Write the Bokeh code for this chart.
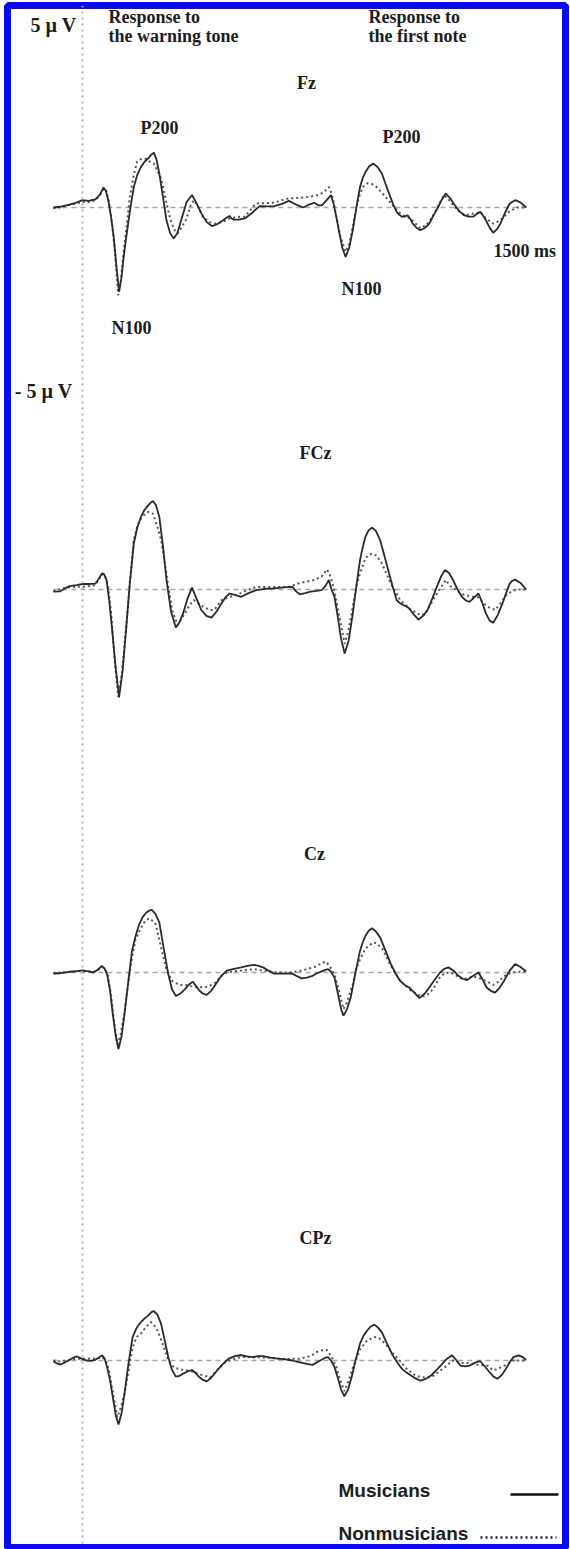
import numpy as np
from bokeh.plotting import figure
from bokeh.models import Range1d, Label, Span
from bokeh.embed import file_html
from bokeh.resources import INLINE

# ---------------- data (time in ms, amplitude in µV) ----------------
channels = ["Fz", "FCz", "Cz", "CPz"]
groups = ["Musicians", "Nonmusicians"]

fz_mus_t = [-97, -75, -54, -25, 0, 20, 43, 58, 70, 78, 86, 95, 104, 113, 122, 130, 138, 146, 158, 171, 183, 195, 207, 219, 230, 238, 247, 256, 268, 280, 292, 304, 316, 329, 347, 365, 380, 396, 414, 432, 450, 469, 480, 490, 497, 505, 520, 541, 565, 590, 615, 639, 665, 688, 712, 736, 755, 773, 786, 798, 814, 828, 837, 846, 855, 866, 877, 889, 901, 913, 925, 934, 943, 956, 970, 984, 998, 1010, 1022, 1035, 1047, 1056, 1065, 1074, 1083, 1092, 1101, 1114, 1126, 1141, 1156, 1171, 1186, 1198, 1211, 1226, 1241, 1256, 1272, 1287, 1302, 1314, 1326, 1335, 1345, 1357, 1369, 1381, 1393, 1408, 1424, 1442, 1460, 1479]
fz_mus_v = [0.0, 0.02, 0.06, 0.12, 0.2, 0.18, 0.22, 0.35, 0.55, 0.45, 0.2, -0.25, -0.8, -1.6, -2.3, -1.9, -1.3, -0.8, -0.1, 0.56, 0.9, 1.11, 1.25, 1.34, 1.45, 1.5, 1.3, 0.93, 0.3, -0.35, -0.7, -0.85, -0.7, -0.35, 0.15, 0.34, 0.12, -0.16, -0.4, -0.51, -0.45, -0.35, -0.28, -0.23, -0.3, -0.33, -0.33, -0.3, -0.15, 0.04, 0.03, 0.04, 0.1, 0.18, 0.08, 0.0, 0.08, 0.13, 0.06, 0.06, 0.2, 0.34, 0.1, -0.25, -0.65, -1.1, -1.35, -1.1, -0.62, 0.0, 0.56, 0.8, 0.97, 1.13, 1.2, 1.1, 0.93, 0.65, 0.38, 0.1, -0.12, -0.2, -0.25, -0.25, -0.21, -0.3, -0.44, -0.56, -0.62, -0.56, -0.44, -0.2, 0.02, 0.22, 0.38, 0.25, 0.06, -0.1, -0.21, -0.25, -0.25, -0.18, -0.12, -0.22, -0.35, -0.55, -0.69, -0.6, -0.44, -0.15, 0.11, 0.2, 0.14, 0.0]

fz_non_t = [-97, -75, -54, -25, 0, 20, 43, 58, 70, 80, 88, 98, 108, 119, 127, 136, 146, 158, 171, 182, 189, 200, 213, 225, 238, 250, 262, 275, 292, 305, 317, 330, 347, 360, 371, 384, 402, 423, 444, 465, 490, 515, 541, 578, 610, 639, 665, 688, 712, 736, 760, 785, 805, 821, 832, 846, 860, 877, 889, 901, 913, 925, 937, 949, 965, 980, 998, 1020, 1047, 1065, 1083, 1101, 1126, 1141, 1156, 1180, 1205, 1220, 1241, 1260, 1278, 1296, 1308, 1326, 1345, 1369, 1381, 1399, 1424, 1450, 1479]
fz_non_v = [-0.02, 0.0, 0.05, 0.1, 0.15, 0.15, 0.2, 0.33, 0.52, 0.45, 0.15, -0.4, -1.2, -2.4, -2.1, -1.3, -0.6, 0.3, 0.9, 1.25, 1.31, 1.33, 1.33, 1.25, 1.2, 1.0, 0.79, 0.3, -0.3, -0.6, -0.71, -0.55, -0.3, 0.05, 0.2, 0.05, -0.26, -0.4, -0.44, -0.4, -0.3, -0.26, -0.25, 0.11, 0.12, 0.13, 0.2, 0.25, 0.26, 0.27, 0.3, 0.34, 0.42, 0.56, 0.35, -0.25, -0.8, -1.21, -1.0, -0.53, 0.0, 0.38, 0.58, 0.66, 0.64, 0.56, 0.4, 0.2, -0.07, -0.2, -0.25, -0.36, -0.57, -0.5, -0.39, -0.05, 0.34, 0.22, 0.02, -0.15, -0.21, -0.17, -0.16, -0.12, -0.3, -0.44, -0.4, -0.3, -0.1, 0.0, 0.0]

fcz_mus_t = [-97, -75, -54, -42, -20, 0, 20, 43, 55, 65, 72, 80, 89, 98, 110, 122, 134, 146, 158, 171, 183, 195, 207, 219, 228, 235, 245, 256, 268, 280, 295, 311, 323, 335, 350, 365, 380, 396, 413, 430, 447, 463, 478, 490, 505, 529, 553, 578, 610, 639, 670, 700, 712, 724, 742, 760, 780, 797, 810, 821, 830, 840, 850, 862, 874, 887, 901, 913, 925, 934, 943, 954, 965, 978, 992, 1007, 1022, 1035, 1047, 1059, 1071, 1080, 1089, 1104, 1120, 1135, 1150, 1166, 1181, 1195, 1208, 1222, 1235, 1250, 1265, 1278, 1290, 1305, 1320, 1332, 1345, 1357, 1369, 1384, 1400, 1412, 1424, 1433, 1442, 1460, 1479]
fcz_mus_v = [-0.06, -0.05, 0.05, 0.09, 0.12, 0.15, 0.15, 0.16, 0.3, 0.44, 0.42, 0.26, -0.3, -1.02, -2.1, -2.95, -2.2, -1.02, 0.2, 1.26, 1.7, 1.99, 2.18, 2.3, 2.38, 2.42, 2.3, 1.99, 1.2, 0.26, -0.6, -1.04, -0.9, -0.66, -0.25, 0.05, -0.25, -0.56, -0.72, -0.77, -0.6, -0.38, -0.2, -0.11, -0.14, -0.2, -0.1, -0.02, 0.02, 0.03, 0.06, 0.07, -0.05, -0.13, -0.1, -0.06, -0.04, -0.02, 0.1, 0.26, 0.0, -0.2, -0.7, -1.35, -1.75, -1.4, -0.66, 0.1, 0.8, 1.15, 1.44, 1.62, 1.69, 1.6, 1.35, 0.9, 0.44, 0.05, -0.29, -0.38, -0.43, -0.46, -0.52, -0.68, -0.82, -0.72, -0.56, -0.25, 0.07, 0.35, 0.53, 0.45, 0.26, 0.0, -0.2, -0.3, -0.34, -0.22, -0.11, -0.35, -0.66, -0.85, -0.91, -0.7, -0.38, -0.1, 0.16, 0.24, 0.27, 0.18, 0.0]

fcz_non_t = [-97, -54, -20, 0, 43, 55, 65, 75, 85, 95, 107, 119, 131, 146, 158, 171, 183, 195, 207, 219, 235, 250, 262, 275, 286, 300, 317, 330, 341, 355, 371, 383, 402, 425, 439, 463, 490, 513, 541, 578, 639, 688, 724, 750, 773, 797, 815, 827, 840, 855, 874, 887, 901, 913, 925, 943, 955, 968, 980, 998, 1028, 1059, 1089, 1110, 1126, 1141, 1162, 1186, 1211, 1225, 1247, 1265, 1302, 1320, 1340, 1357, 1375, 1393, 1412, 1430, 1450, 1479]
fcz_non_v = [-0.04, 0.05, 0.08, 0.07, 0.12, 0.28, 0.42, 0.38, 0.1, -0.6, -1.9, -2.93, -2.3, -1.0, 0.2, 1.35, 1.75, 1.94, 2.05, 2.12, 2.07, 1.7, 1.35, 0.7, 0.07, -0.6, -0.97, -0.8, -0.66, -0.45, -0.29, -0.35, -0.47, -0.56, -0.56, -0.29, -0.2, -0.15, -0.05, 0.07, 0.07, 0.07, 0.18, 0.22, 0.26, 0.35, 0.55, 0.35, -0.05, -0.7, -1.48, -1.1, -0.47, 0.1, 0.44, 0.85, 0.95, 0.98, 0.93, 0.71, 0.16, -0.29, -0.52, -0.62, -0.7, -0.68, -0.38, -0.05, 0.26, 0.1, -0.02, -0.13, -0.2, -0.22, -0.4, -0.5, -0.56, -0.38, -0.16, -0.05, 0.0, 0.0]

cz_mus_t = [-97, -75, -42, -20, 0, 20, 37, 52, 64, 73, 82, 92, 101, 111, 120, 130, 140, 152, 165, 177, 189, 201, 213, 222, 231, 243, 256, 270, 286, 298, 311, 326, 341, 355, 368, 379, 390, 402, 414, 429, 444, 462, 481, 505, 529, 550, 572, 587, 602, 620, 639, 670, 700, 715, 730, 748, 767, 782, 797, 810, 819, 830, 840, 852, 862, 870, 882, 894, 910, 925, 934, 943, 954, 965, 978, 992, 1010, 1028, 1043, 1059, 1074, 1089, 1106, 1123, 1140, 1156, 1174, 1192, 1206, 1220, 1237, 1253, 1268, 1281, 1300, 1320, 1334, 1347, 1361, 1375, 1390, 1405, 1424, 1442, 1460, 1479]
cz_mus_v = [-0.03, -0.02, 0.02, 0.04, 0.06, 0.03, 0.0, 0.08, 0.18, 0.12, -0.05, -0.5, -1.14, -1.75, -2.09, -1.75, -1.14, -0.3, 0.59, 1.0, 1.32, 1.52, 1.64, 1.69, 1.71, 1.6, 1.37, 0.7, -0.05, -0.45, -0.64, -0.58, -0.46, -0.33, -0.25, -0.38, -0.5, -0.58, -0.61, -0.5, -0.32, -0.1, 0.05, 0.1, 0.14, 0.18, 0.21, 0.18, 0.14, 0.05, -0.03, -0.03, -0.03, -0.1, -0.16, -0.14, -0.09, -0.02, 0.03, 0.07, 0.09, 0.0, -0.14, -0.6, -1.0, -1.18, -1.0, -0.68, 0.0, 0.59, 0.82, 1.0, 1.14, 1.21, 1.12, 0.96, 0.6, 0.23, -0.02, -0.23, -0.34, -0.41, -0.55, -0.7, -0.58, -0.41, -0.2, 0.0, 0.1, 0.14, 0.05, -0.09, -0.17, -0.21, -0.1, 0.0, -0.2, -0.41, -0.5, -0.55, -0.42, -0.23, 0.05, 0.23, 0.15, 0.03]

cz_non_t = [-97, -42, 0, 37, 52, 64, 75, 84, 95, 106, 116, 127, 140, 152, 165, 177, 195, 210, 223, 235, 244, 262, 280, 298, 323, 347, 371, 390, 408, 426, 444, 462, 481, 505, 529, 572, 620, 651, 700, 748, 773, 797, 810, 822, 840, 855, 870, 882, 901, 913, 925, 943, 968, 980, 1000, 1028, 1059, 1095, 1132, 1150, 1168, 1192, 1211, 1235, 1265, 1284, 1302, 1320, 1345, 1369, 1387, 1405, 1430, 1479]
cz_non_v = [-0.02, 0.02, 0.04, 0.02, 0.08, 0.15, 0.1, -0.05, -0.6, -1.4, -1.96, -1.7, -1.09, -0.3, 0.41, 0.9, 1.23, 1.42, 1.48, 1.4, 1.32, 0.68, 0.07, -0.23, -0.34, -0.34, -0.39, -0.4, -0.41, -0.35, -0.27, -0.1, 0.0, 0.03, 0.05, 0.09, 0.03, 0.0, 0.0, 0.09, 0.15, 0.25, 0.3, 0.2, -0.05, -0.5, -1.0, -0.8, -0.32, 0.1, 0.36, 0.65, 0.82, 0.8, 0.64, 0.18, -0.23, -0.5, -0.66, -0.6, -0.46, -0.12, 0.0, -0.03, -0.18, -0.16, -0.1, -0.15, -0.23, -0.34, -0.25, -0.1, 0.0, 0.03]

cpz_mus_t = [-97, -85, -73, -58, -42, -30, -18, -3, 13, 28, 43, 55, 65, 74, 82, 92, 101, 111, 120, 130, 140, 153, 167, 181, 195, 207, 219, 230, 238, 250, 262, 274, 286, 298, 311, 323, 335, 350, 365, 378, 390, 402, 414, 429, 444, 465, 487, 508, 529, 548, 566, 585, 602, 627, 651, 676, 700, 718, 736, 752, 767, 782, 797, 808, 819, 830, 840, 852, 862, 873, 885, 897, 910, 925, 937, 949, 961, 973, 985, 998, 1016, 1034, 1050, 1065, 1080, 1095, 1110, 1126, 1144, 1162, 1180, 1199, 1215, 1232, 1245, 1260, 1275, 1290, 1308, 1326, 1340, 1357, 1370, 1383, 1397, 1411, 1424, 1436, 1454, 1466, 1479]
cpz_mus_v = [-0.02, -0.08, -0.11, -0.05, 0.02, 0.08, 0.11, 0.05, 0.0, -0.01, 0.02, 0.08, 0.14, 0.05, -0.18, -0.55, -1.0, -1.5, -1.75, -1.45, -0.91, -0.1, 0.64, 0.9, 1.05, 1.15, 1.23, 1.32, 1.35, 1.25, 1.0, 0.55, 0.09, -0.25, -0.44, -0.42, -0.36, -0.3, -0.26, -0.35, -0.46, -0.53, -0.57, -0.47, -0.32, -0.12, 0.05, 0.12, 0.15, 0.11, 0.09, 0.12, 0.12, 0.08, 0.05, 0.03, 0.0, -0.04, -0.07, -0.1, -0.12, -0.05, 0.02, 0.07, 0.09, -0.02, -0.18, -0.5, -0.8, -0.98, -0.8, -0.46, 0.0, 0.46, 0.68, 0.82, 0.93, 0.98, 0.9, 0.77, 0.45, 0.14, -0.06, -0.23, -0.33, -0.41, -0.49, -0.55, -0.5, -0.41, -0.26, -0.09, 0.05, 0.14, 0.02, -0.14, -0.16, -0.14, -0.06, -0.02, -0.15, -0.32, -0.44, -0.5, -0.4, -0.23, -0.05, 0.09, 0.14, 0.1, 0.02]

cpz_non_t = [-97, -75, -42, -20, 0, 43, 65, 78, 90, 104, 116, 127, 140, 153, 167, 181, 195, 210, 228, 240, 250, 265, 286, 306, 335, 359, 384, 408, 426, 450, 475, 500, 529, 578, 627, 676, 724, 760, 785, 800, 815, 830, 845, 858, 873, 885, 901, 925, 949, 973, 990, 1010, 1034, 1059, 1083, 1110, 1130, 1162, 1186, 1211, 1235, 1260, 1290, 1320, 1350, 1369, 1387, 1411, 1436, 1460, 1479]
cpz_non_v = [0.0, -0.03, 0.02, 0.05, 0.05, 0.05, 0.09, 0.0, -0.35, -1.0, -1.55, -1.3, -0.91, -0.3, 0.36, 0.65, 0.73, 0.9, 1.05, 0.95, 0.82, 0.5, 0.0, -0.2, -0.26, -0.28, -0.36, -0.42, -0.46, -0.25, -0.05, 0.03, 0.1, 0.09, 0.07, 0.04, 0.05, 0.12, 0.25, 0.28, 0.29, 0.1, -0.15, -0.5, -0.84, -0.6, -0.2, 0.3, 0.55, 0.64, 0.6, 0.45, 0.2, -0.02, -0.25, -0.41, -0.46, -0.46, -0.32, -0.16, 0.0, -0.07, -0.07, -0.12, -0.14, -0.27, -0.22, -0.12, 0.0, 0.0, 0.0]

traces = {
    "Fz": ((fz_mus_t, fz_mus_v), (fz_non_t, fz_non_v)),
    "FCz": ((fcz_mus_t, fcz_mus_v), (fcz_non_t, fcz_non_v)),
    "Cz": ((cz_mus_t, cz_mus_v), (cz_non_t, cz_non_v)),
    "CPz": ((cpz_mus_t, cpz_mus_v), (cpz_non_t, cpz_non_v)),
}

# ---------------- layout (page pixels) ----------------
W, H = 570, 1549
PAGE_OFF = 0
B_L, B_R, B_T, B_B = 7, 5, 5, 2
ZERO_X = 82.0      # page x of t = 0 ms
PX_MS = 0.3        # px per ms
FZ_BASE = 207.0    # page y of Fz baseline
PX_UV = 36.6       # px per µV

def tx(px):
    return (px - ZERO_X) / PX_MS

def uy(py):
    return (FZ_BASE - py) / PX_UV

base_page = {"Fz": 207, "FCz": 589, "Cz": 972, "CPz": 1360}
label_page = {"Fz": (306, 82), "FCz": (315, 452), "Cz": (314, 853), "CPz": (315, 1237)}

frame_l = PAGE_OFF + B_L
frame_r = PAGE_OFF + W - B_R
frame_t = PAGE_OFF + B_T
frame_b = PAGE_OFF + H - B_B

p = figure(width=W, height=H,
           x_range=Range1d(tx(frame_l), tx(frame_r)),
           y_range=Range1d(uy(frame_b), uy(frame_t)),
           output_backend="svg", toolbar_location=None,
           x_axis_type=None, y_axis_type=None,
           min_border_left=B_L, min_border_right=B_R,
           min_border_top=B_T, min_border_bottom=B_B,
           border_fill_color="white", background_fill_color="white",
           outline_line_color="#0a0af0", outline_line_width=7)

p.add_layout(Span(location=0, dimension="height", line_color="#adadad",
                  line_dash="2 4", line_width=1.7))

SERIF = "Liberation Serif"
SANS = "Liberation Sans"
TXT = "#1c1c1c"

def lab(x, y, text, align="center", font=SERIF, size="18px"):
    p.add_layout(Label(x=x, y=y, text=text, text_font=font, text_font_style="bold",
                       text_font_size=size, text_align=align, text_baseline="middle",
                       text_color=TXT))

for ch in channels:
    off = uy(base_page[ch])
    (mt, mv), (nt, nv) = traces[ch]
    p.line([mt[0], mt[-1]], [off, off], line_color="#a8a8a8", line_dash="5 4", line_width=1.3)
    p.line(nt, np.array(nv) + off, line_color="#555555", line_dash="2 3", line_width=2.0)
    p.line(mt, np.array(mv) + off, line_color="#2a2a2a", line_width=1.8)
    lx, ly = label_page[ch]
    lab(tx(lx), uy(ly), ch)

# scale and headings
lab(tx(76), 5.0, "5 µ V", align="right", size="20px")
lab(tx(72), -5.0, "- 5 µ V", align="right", size="20px")
lab(tx(108), uy(16), "Response to", align="left", size="18px")
lab(tx(108), uy(35), "the warning tone", align="left", size="18px")
lab(tx(368), uy(16), "Response to", align="left", size="18px")
lab(tx(368), uy(35), "the first note", align="left", size="18px")

# component labels on Fz
lab(tx(159), uy(127), "P200")
lab(tx(401), uy(136), "P200")
lab(tx(131), uy(327), "N100")
lab(tx(361), uy(288), "N100")
lab(tx(493), uy(250), "1500 ms", align="left")

# legend
lab(tx(338), uy(1490), groups[0], align="left", font=SANS, size="19px")
lab(tx(338), uy(1533), groups[1], align="left", font=SANS, size="19px")
p.line([tx(510), tx(558)], [uy(1494), uy(1494)], line_color="#111111", line_width=2.6)
p.line([tx(480), tx(556)], [uy(1537), uy(1537)], line_color="#222222", line_dash="2 3", line_width=2.6)

open("out.html", "w").write(file_html(p, INLINE))
